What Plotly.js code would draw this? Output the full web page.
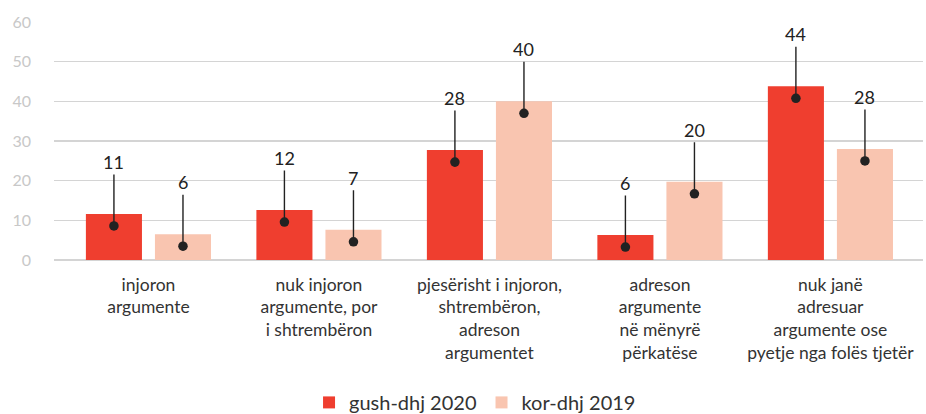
<!DOCTYPE html>
<html>
<head>
<meta charset="utf-8">
<script src="https://cdn.plot.ly/plotly-3.0.1.min.js"></script>
<style>html,body{margin:0;padding:0;background:#fff;}#chart{width:926px;height:414px;}</style>
</head>
<body>
<div id="chart"></div>
<script>
const categories = [
  "injoron<br>argumente",
  "nuk injoron<br>argumente, por<br>i shtrembëron",
  "pjesërisht i injoron,<br>shtrembëron,<br>adreson<br>argumentet",
  "adreson<br>argumente<br>në mënyrë<br>përkatëse",
  "nuk janë<br>adresuar<br>argumente ose<br>pyetje nga folës tjetër"
];
const seriesNames = ["gush-dhj 2020", "kor-dhj 2019"];
const values2020 = [11.6, 12.6, 27.7, 6.3, 43.8];
const values2019 = [6.5, 7.6, 40.0, 19.7, 28.0];
const labels2020 = ["11", "12", "28", "6", "44"];
const labels2019 = ["6", "7", "40", "20", "28"];
const yTicks = [0, 10, 20, 30, 40, 50, 60];
const colors = ["#EF3E2F", "#F9C5B0"];

const bargap = 0.19;
const bargroupgap = 0.188;
const FONT = "Lato, 'Open Sans', sans-serif";

const traces = [
  {type: "bar", name: seriesNames[0], x: categories.map((c, i) => i), y: values2020,
   marker: {color: colors[0]}, hoverinfo: "skip"},
  {type: "bar", name: seriesNames[1], x: categories.map((c, i) => i), y: values2019,
   marker: {color: colors[1]}, hoverinfo: "skip"}
];

const slot = (1 - bargap) / 2;
const annotations = [];
[[values2020, labels2020, -1], [values2019, labels2019, 1]].forEach(([vals, labs, side]) => {
  vals.forEach((v, i) => {
    annotations.push({
      x: i + side * slot / 2, y: v, xref: "x", yref: "y",
      yshift: -12,
      text: labs[i], showarrow: true, arrowhead: 6, arrowsize: 1.7, arrowwidth: 1.4,
      arrowcolor: "#222", standoff: 0, startstandoff: 0,
      ax: 0, ay: -64,
      font: {family: FONT, size: 18, color: "#222"}
    });
  });
});

const layout = {
  width: 926, height: 414,
  margin: {l: 54, r: 3, t: 22, b: 154},
  paper_bgcolor: "#fff", plot_bgcolor: "#fff",
  font: {family: FONT},
  barmode: "group", bargap: bargap, bargroupgap: bargroupgap,
  showlegend: true,
  legend: {orientation: "h", xref: "container", yref: "container", x: 0.513, xanchor: "center",
           y: 0.028, yanchor: "middle", font: {family: FONT, size: 20, color: "#333"},
           itemwidth: 30, traceorder: "normal"},
  xaxis: {
    range: [-0.554, 4.543], tickmode: "array", tickvals: [0,1,2,3,4], ticktext: categories,
    showgrid: false, zeroline: false, showline: false, ticks: "",
    tickfont: {family: FONT, size: 17.5, color: "#333"}, ticklabelstandoff: 12, fixedrange: true
  },
  yaxis: {
    range: [0, 60], tickmode: "array", tickvals: yTicks, ticktext: yTicks.map(String),
    showgrid: true, gridcolor: "#d4d4d4", gridwidth: 1.5, zeroline: true, zerolinecolor: "#d4d4d4", zerolinewidth: 1.5,
    showline: false, ticks: "", ticklabelstandoff: 22,
    tickfont: {family: FONT, size: 16, color: "#c8c8c8"}, fixedrange: true
  },
  annotations: annotations
};

Plotly.newPlot("chart", traces, layout, {displayModeBar: false, staticPlot: true});
</script>
</body>
</html>
